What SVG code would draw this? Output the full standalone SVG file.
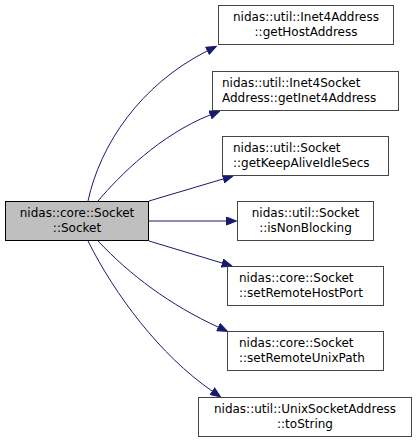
<svg xmlns="http://www.w3.org/2000/svg" width="419" height="443" viewBox="0 0 419 443">
<defs>
<style>
.node rect{fill:#ffffff;stroke:#444444;stroke-width:1}
#main rect{fill:#bfbfbf;stroke:#000000}
text{font-family:"DejaVu Sans",sans-serif;font-size:12px;fill:#000000}
.c{text-anchor:middle}
#edges path{fill:none;stroke:#191970;stroke-width:1;marker-end:url(#arr)}
</style>
<marker id="arr" viewBox="0 0 11 9" refX="0" refY="4.5" markerWidth="11" markerHeight="9" markerUnits="userSpaceOnUse" orient="auto">
<path d="M0.5,0.5 L10.5,4.5 L0.5,8.5 Z" fill="#191970" stroke="#191970" stroke-width="1"/>
</marker>
</defs>
<rect width="419" height="443" fill="#ffffff"/>
<g id="edges">
<path d="M88,201 C100,145 140,85 207,51"/>
<path d="M98,201 C120,175 160,135 210,115"/>
<path d="M149,201 L223,179"/>
<path d="M149,221 L226,221"/>
<path d="M149,241 L222,263"/>
<path d="M98,241 C130,275 170,305 218,327"/>
<path d="M88,241 C115,295 160,355 212,391"/>
</g>
<g id="main" class="node">
<rect x="5.5" y="201.5" width="143" height="39"/>
<text class="c" x="77" y="217">nidas::core::Socket</text>
<text class="c" x="77" y="232">::Socket</text>
</g>
<g id="n1" class="node">
<rect x="218.5" y="5.5" width="175" height="39"/>
<text class="c" x="306" y="21">nidas::util::Inet4Address</text>
<text class="c" x="306" y="36">::getHostAddress</text>
</g>
<g id="n2" class="node">
<rect x="212.5" y="71.5" width="186" height="39"/>
<text x="222" y="87">nidas::util::Inet4Socket</text>
<text x="222" y="102">Address::getInet4Address</text>
</g>
<g id="n3" class="node">
<rect x="222.5" y="136.5" width="166" height="39"/>
<text x="233" y="152">nidas::util::Socket</text>
<text x="233" y="167">::getKeepAliveIdleSecs</text>
</g>
<g id="n4" class="node">
<rect x="237.5" y="201.5" width="136" height="39"/>
<text class="c" x="305.5" y="217">nidas::util::Socket</text>
<text class="c" x="305.5" y="232">::isNonBlocking</text>
</g>
<g id="n5" class="node">
<rect x="227.5" y="266.5" width="156" height="39"/>
<text x="239" y="282">nidas::core::Socket</text>
<text x="239" y="297">::setRemoteHostPort</text>
</g>
<g id="n6" class="node">
<rect x="227.5" y="331.5" width="156" height="39"/>
<text x="239" y="347">nidas::core::Socket</text>
<text x="239" y="362">::setRemoteUnixPath</text>
</g>
<g id="n7" class="node">
<rect x="198.5" y="397.5" width="213" height="39"/>
<text class="c" x="305" y="413">nidas::util::UnixSocketAddress</text>
<text class="c" x="305" y="428">::toString</text>
</g>
</svg>
